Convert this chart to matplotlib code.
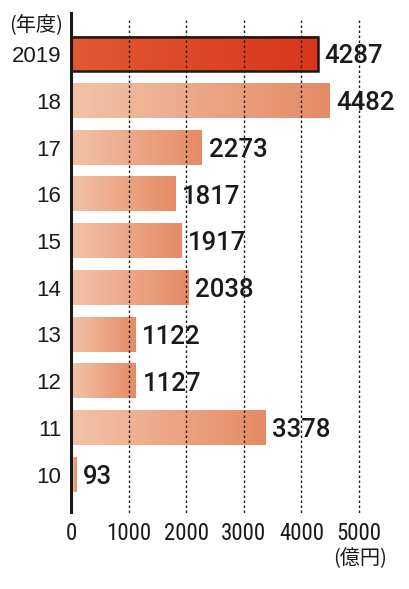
import numpy as np
import matplotlib
matplotlib.use('Agg')
import matplotlib.pyplot as plt
from matplotlib.colors import LinearSegmentedColormap

# ── データ ──────────────────────────────────────────────
years = ['2019', '18', '17', '16', '15', '14', '13', '12', '11', '10']
values = [4287, 4482, 2273, 1817, 1917, 2038, 1122, 1127, 3378, 93]
xticks = [0, 1000, 2000, 3000, 4000, 5000]

plt.rcParams['font.family'] = ['Liberation Sans', 'DejaVu Sans']
CJK = ['Noto Sans CJK JP', 'DejaVu Sans']

cmap_light = LinearSegmentedColormap.from_list('light', ['#f3c3a8', '#e58a65'])
cmap_hi = LinearSegmentedColormap.from_list('hi', ['#e25a34', '#d8361a'])

fig = plt.figure(figsize=(4.10, 5.89), dpi=100)
ax = fig.add_axes([0.1732, 0.1307, 0.7024, 0.8473])

pos = np.arange(len(years))
bar_h = 0.73
grad = np.linspace(0, 1, 256).reshape(1, -1)

bars = ax.barh(pos, values, height=bar_h, color='none', edgecolor='none')
for i, (b, v) in enumerate(zip(bars, values)):
    x0, y0 = b.get_x(), b.get_y()
    w, h = b.get_width(), b.get_height()
    cm = cmap_hi if i == 0 else cmap_light
    ax.imshow(grad, cmap=cm, aspect='auto', extent=(x0, x0 + w, y0 + h, y0),
              zorder=2, interpolation='bicubic')
    if i == 0:
        ax.add_patch(plt.Rectangle((x0, y0), w, h, fill=False,
                                   edgecolor='#1a1a1a', linewidth=1.8, zorder=4))
    ax.text(v + 115, i + 0.05, f'{v}', ha='left', va='center',
            fontsize=18.5, fontweight='medium', color='#1a1a1a', zorder=5,
            family=['Roboto', 'DejaVu Sans'])

# 点線グリッド（棒の上に描く）
ax.vlines(xticks[1:], -0.73, 9.87, colors='#222222', linestyles=(0, (1.8, 1.8)),
          linewidth=1.0, zorder=3, clip_on=False)

ax.set_xlim(0, 5000)
ax.set_ylim(9.80, -0.88)

for s in ['top', 'right', 'bottom']:
    ax.spines[s].set_visible(False)
ax.spines['left'].set_linewidth(2.2)
ax.spines['left'].set_color('#1a1a1a')
ax.spines['left'].set_zorder(6)

ax.set_yticks(pos)
ax.set_yticklabels(years, fontsize=16, color='#1a1a1a')
ax.tick_params(axis='y', length=0, pad=7)
ax.set_xticks(xticks)
ax.set_xticklabels([str(t) for t in xticks], fontsize=16.5, color='#1a1a1a',
                   family=['Roboto Condensed', 'DejaVu Sans'])
ax.tick_params(axis='x', length=0, pad=7)

fig.text(63 / 410, 1 - 25 / 589, '(年度)', ha='right', va='center',
         fontsize=14.5, color='#1a1a1a', family=CJK)
fig.text(360 / 410, 1 - 559 / 589, '(億円)', ha='center', va='center',
         fontsize=14.5, color='#1a1a1a', family=CJK)

fig.savefig('out.png', dpi=100)
